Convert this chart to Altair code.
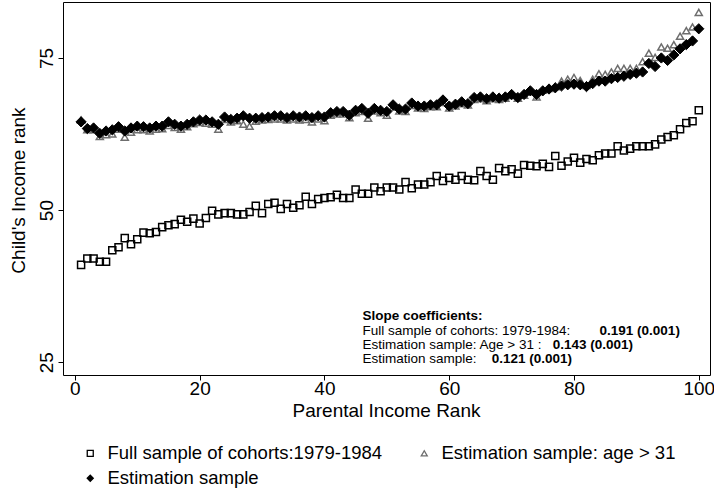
import altair as alt
import pandas as pd

x_rank = list(range(1, 101))

full_sample = [41.0, 42.05, 42.05, 41.5, 41.5, 43.4, 43.9, 45.4, 44.4, 45.2,
               46.3, 46.2, 46.4, 47.2, 47.5, 47.7, 48.4, 48.1, 48.6, 47.8,
               48.7, 49.9, 49.3, 49.5, 49.5, 49.3, 49.3, 49.7, 50.7, 49.5,
               51.0, 51.2, 50.2, 51.0, 50.4, 50.8, 52.2, 51.0, 51.8, 52.0,
               52.1, 52.5, 52.0, 52.0, 53.4, 52.7, 52.7, 53.7, 53.1, 53.7,
               53.7, 53.4, 54.6, 53.6, 54.2, 54.2, 54.6, 55.6, 54.8, 55.3,
               55.0, 55.6, 55.0, 54.9, 56.4, 55.6, 55.0, 56.9, 56.4, 56.7,
               56.0, 57.4, 57.3, 57.2, 57.6, 57.1, 58.9, 57.3, 58.0, 58.6,
               57.8, 58.4, 58.2, 59.0, 59.3, 59.3, 60.5, 59.8, 60.1, 60.5,
               60.5, 60.5, 60.8, 61.6, 62.0, 62.3, 63.3, 64.3, 64.6, 66.4]

age_over_31 = [64.8, 63.2, 63.2, 62.1, 62.4, 62.5, 63.3, 62.0, 62.8, 63.2,
               63.2, 63.0, 63.3, 63.4, 63.9, 63.6, 63.3, 63.7, 64.2, 64.4,
               64.3, 64.1, 63.3, 64.9, 64.5, 64.7, 64.1, 63.8, 64.6, 64.8,
               64.9, 65.0, 65.0, 64.8, 65.0, 64.8, 64.9, 64.5, 65.0, 64.7,
               65.6, 65.8, 65.8, 65.2, 66.0, 66.2, 65.1, 66.3, 66.0, 65.6,
               66.9, 66.3, 66.2, 67.2, 66.8, 66.7, 67.0, 67.0, 67.7, 66.8,
               67.1, 67.5, 67.3, 68.2, 68.3, 68.0, 68.3, 68.2, 68.4, 68.8,
               68.4, 68.9, 69.5, 68.6, 69.7, 70.0, 70.3, 71.2, 71.5, 71.8,
               71.3, 70.5, 71.5, 72.4, 72.3, 72.7, 73.3, 73.3, 73.3, 73.3,
               74.4, 75.8, 75.1, 76.8, 76.6, 77.2, 78.6, 79.5, 80.1, 82.5]

estimation = [64.5, 63.4, 63.5, 62.6, 63.0, 63.2, 63.7, 63.0, 63.5, 63.8,
              63.7, 63.5, 63.8, 63.8, 64.5, 64.1, 63.8, 64.1, 64.5, 64.8,
              64.8, 64.5, 64.1, 65.3, 64.9, 65.1, 65.5, 65.1, 65.1, 65.2,
              65.3, 65.5, 65.5, 65.2, 65.5, 65.3, 65.5, 65.2, 65.5, 65.3,
              66.0, 66.2, 66.2, 65.6, 66.4, 66.7, 65.9, 66.7, 66.4, 66.2,
              67.3, 66.6, 66.6, 67.6, 67.1, 67.1, 67.3, 67.3, 68.1, 67.1,
              67.4, 67.8, 67.5, 68.5, 68.6, 68.3, 68.6, 68.4, 68.6, 69.0,
              68.5, 69.0, 69.6, 69.0, 69.6, 69.9, 70.1, 70.4, 70.6, 70.7,
              70.6, 70.3, 70.8, 71.2, 71.2, 71.6, 71.8, 72.0, 72.3, 72.5,
              72.7, 74.1, 73.6, 75.0, 74.6, 75.5, 76.5, 77.2, 77.8, 79.8]

series_names = ["Full sample of cohorts:1979-1984",
                "Estimation sample: age > 31",
                "Estimation sample"]

x_ticks = [0, 20, 40, 60, 80, 100]
y_ticks = [25, 50, 75]

# annotation text
note_header = ["Slope coefficients:"]
note_regular = ["Full sample of cohorts: 1979-1984:  ",
                "Estimation sample: Age > 31 :  ",
                "Estimation sample: "]
note_bold = ["0.191 (0.001)", "0.143 (0.001)", "0.121 (0.001)"]

rows = []
for name, vals in zip(series_names, [full_sample, age_over_31, estimation]):
    for xv, yv in zip(x_rank, vals):
        rows.append({"rank": xv, "value": yv, "series": name})
df = pd.DataFrame(rows)

FONT = "Liberation Sans"
xscale = alt.Scale(domain=[-1.9, 101.8], nice=False, zero=False)
yscale = alt.Scale(domain=[22.9, 84.2], nice=False, zero=False)

legend = alt.Legend(
    title=None, orient="none", legendX=18, legendY=442, columns=2,
    direction="horizontal",
    columnPadding=32, rowPadding=6, labelOffset=8, symbolSize=36,
    symbolStrokeWidth=1.3, labelFontSize=18.5, labelFont=FONT,
    labelColor="black", labelLimit=400,
)

x_enc = alt.X("rank:Q", scale=xscale, axis=alt.Axis(
    values=x_ticks, title="Parental Income Rank", grid=False, domain=False,
    tickSize=5, tickColor="black", labelPadding=-1, labelFontSize=19,
    labelFont=FONT, labelColor="black", titleFontSize=19, titleFont=FONT,
    titleFontWeight="normal", titleColor="black", titleX=323, titleY=35,
    titleBaseline="middle", labelFlush=False))
y_enc = alt.Y("value:Q", scale=yscale, axis=alt.Axis(
    values=y_ticks, title="Child's Income rank", grid=False, domain=False,
    tickSize=5, tickColor="black", labelPadding=2, labelFontSize=19,
    labelFont=FONT, labelColor="black", labelAngle=270, labelAlign="center",
    labelBaseline="bottom", titleFontSize=19, titleFont=FONT,
    titleFontWeight="normal", titleColor="black", titleX=-45, titleY=188,
    titleAngle=270, titleAlign="center", titleBaseline="middle"))

shape_enc = alt.Shape("series:N", scale=alt.Scale(domain=series_names,
                      range=["square", "triangle-up", "diamond"]), legend=legend)
stroke_enc = alt.Stroke("series:N", scale=alt.Scale(domain=series_names,
                        range=["black", "#6e6e6e", "black"]), legend=legend)
fill_enc = alt.Fill("series:N", scale=alt.Scale(domain=series_names,
                    range=["transparent", "transparent", "black"]), legend=legend)

open_pts = alt.Chart(df).transform_filter(
    alt.FieldOneOfPredicate(field="series", oneOf=series_names[:2])
).mark_point(opacity=1, strokeWidth=1.5, size=50).encode(
    x=x_enc, y=y_enc, shape=shape_enc, stroke=stroke_enc, fill=fill_enc)

solid_pts = alt.Chart(df).transform_filter(
    alt.FieldEqualPredicate(field="series", equal=series_names[2])
).mark_point(opacity=1, strokeWidth=1, size=105).encode(
    x=x_enc, y=y_enc, shape=shape_enc, stroke=stroke_enc, fill=fill_enc)

line_y = [30.2, 27.85, 25.5]
hdr_df = pd.DataFrame({"x": [46.1], "y": [32.55], "t": note_header})
reg_df = pd.DataFrame({"x": [46.1, 46.1, 46.1], "y": line_y, "t": note_regular})
bold_df = pd.DataFrame({"x": [84.1, 76.6, 66.8], "y": line_y, "t": note_bold})

def text_layer(d, weight):
    return alt.Chart(d).mark_text(
        align="left", baseline="middle", font=FONT, fontSize=13.5,
        fontWeight=weight, color="black"
    ).encode(x=alt.X("x:Q", scale=xscale), y=alt.Y("y:Q", scale=yscale), text="t:N")

chart = alt.layer(
    open_pts,
    solid_pts,
    text_layer(hdr_df, "bold"),
    text_layer(reg_df, "normal"),
    text_layer(bold_df, "bold"),
).properties(
    width=647, height=373,
    autosize=alt.AutoSizeParams(type="none"),
    padding={"left": 63, "top": 2, "right": 4, "bottom": 118},
    background="white",
).configure_view(
    stroke="black", strokeWidth=1
)

chart.save("out.html", embed_options={"renderer": "svg", "actions": False})
